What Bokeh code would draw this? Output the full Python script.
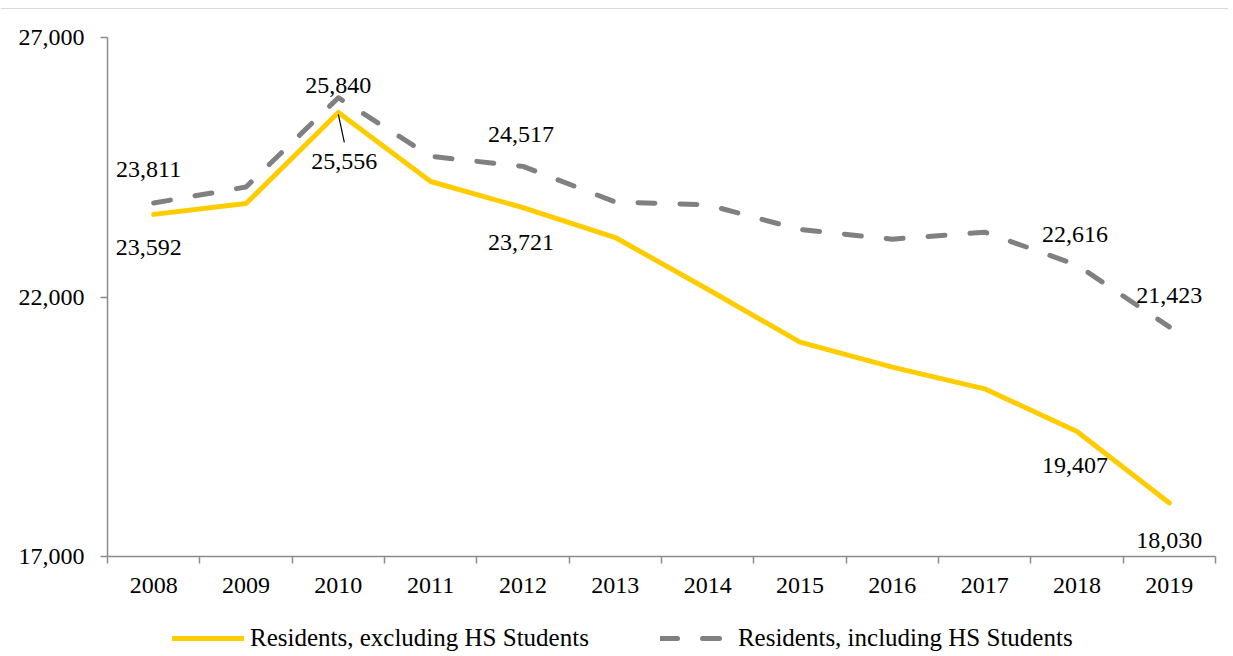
from bokeh.plotting import figure
from bokeh.models import (Range1d, FixedTicker, Legend, LegendItem, ColumnDataSource,
                          NumeralTickFormatter, LinearAxis, Span)
from bokeh.core.properties import value
from bokeh.embed import file_html
from bokeh.resources import INLINE

# ---------------- data ----------------
years = ["2008", "2009", "2010", "2011", "2012", "2013",
         "2014", "2015", "2016", "2017", "2018", "2019"]
residents_excl_hs = [23592, 23800, 25556, 24225, 23721, 23146,
                     22150, 21129, 20648, 20231, 19407, 18030]
residents_incl_hs = [23811, 24120, 25840, 24710, 24517, 23830,
                     23776, 23300, 23114, 23249, 22616, 21423]
series_names = ["Residents, excluding HS Students", "Residents, including HS Students"]
y_ticks = [17000, 22000, 27000]
labelled_years = [0, 2, 4, 10, 11]

# ---------------- styling / layout (pixels) ----------------
FONT = "Liberation Serif"
FS = "24px"
YELLOW = "#FFCC00"
GREY = "#808080"
AXIS = "#8c8c8c"
W, H = 1228, 652
PLOT_L, PLOT_R = 107, 1215      # x of axis start / end
PLOT_T, PLOT_B = 37, 556        # y of top tick / axis line
RULE_Y = 8

n = len(years)
ppx = (PLOT_R - PLOT_L) / n
ppy = (PLOT_B - PLOT_T) / (y_ticks[-1] - y_ticks[0])
x0 = -0.5 - PLOT_L / ppx
x1 = n - 0.5 + (W - PLOT_R) / ppx
y1 = y_ticks[-1] + PLOT_T / ppy
y0 = y_ticks[0] - (H - PLOT_B) / ppy

xs = list(range(n))
p = figure(width=W, height=H, output_backend="svg", toolbar_location=None,
           x_range=Range1d(x0, x1), y_range=Range1d(y0, y1),
           x_axis_location=None, y_axis_location=None,
           min_border=0, min_border_left=0, min_border_right=0,
           min_border_top=0, min_border_bottom=0)
p.grid.visible = False
p.outline_line_color = None
p.background_fill_color = "white"
p.border_fill_color = "white"

# y axis
ya = LinearAxis(fixed_location=-0.5, bounds=(y_ticks[0], y_ticks[-1]))
ya.ticker = FixedTicker(ticks=y_ticks)
ya.formatter = NumeralTickFormatter(format="0,0")
ya.axis_line_color = AXIS
ya.axis_line_width = 1.5
ya.major_tick_line_color = AXIS
ya.major_tick_line_width = 1.5
ya.major_tick_out = 7
ya.major_tick_in = 0
ya.minor_tick_line_color = None
ya.major_label_standoff = 16
ya.major_label_text_font = FONT
ya.major_label_text_font_size = FS
ya.major_label_text_color = "#000000"
p.add_layout(ya, "left")

# x axis: labels at category centres, tick marks at category boundaries
xa = LinearAxis(fixed_location=y_ticks[0], bounds=(-0.5, n - 0.5))
xa.ticker = FixedTicker(ticks=xs, minor_ticks=[i - 0.5 for i in range(n + 1)])
xa.major_label_overrides = {i: y for i, y in enumerate(years)}
xa.axis_line_color = AXIS
xa.axis_line_width = 1.5
xa.major_tick_line_color = None
xa.major_tick_out = 0
xa.major_tick_in = 0
xa.minor_tick_line_color = AXIS
xa.minor_tick_line_width = 1.5
xa.minor_tick_out = 7
xa.minor_tick_in = 0
xa.major_label_standoff = 14
xa.major_label_text_font = FONT
xa.major_label_text_font_size = FS
xa.major_label_text_color = "#000000"
p.add_layout(xa, "below")

# thin rule at the top of the page
p.add_layout(Span(location=y1 - RULE_Y / ppy, dimension="width",
                  line_color="#d9d9d9", line_width=1))

src = ColumnDataSource(dict(x=xs, excl=residents_excl_hs, incl=residents_incl_hs))
r_excl = p.line("x", "excl", source=src, line_color=YELLOW, line_width=5,
                line_join="round", line_cap="round")
r_incl = p.line("x", "incl", source=src, line_color=GREY, line_width=5,
                line_dash="17 25", line_cap="round", line_join="round")

# data labels
incl_off = {0: (-5, -34), 2: (0, -12), 4: (-2, -32), 10: (-2, -31), 11: (0, -31)}
excl_off = {0: (-5, 33), 2: (6, 49), 4: (-2, 35), 10: (-2, 34), 11: (0, 37)}
lab_x, lab_y, lab_t, lab_dx, lab_dy = [], [], [], [], []
for i in labelled_years:
    for vals, off in ((residents_incl_hs, incl_off), (residents_excl_hs, excl_off)):
        lab_x.append(i)
        lab_y.append(vals[i])
        lab_t.append(f"{vals[i]:,}")
        lab_dx.append(off[i][0])
        lab_dy.append(off[i][1])
lsrc = ColumnDataSource(dict(x=lab_x, y=lab_y, t=lab_t, dx=lab_dx, dy=lab_dy))
p.text("x", "y", text="t", source=lsrc, x_offset="dx", y_offset="dy",
       text_align="center", text_baseline="middle",
       text_font=value(FONT), text_font_size=FS, text_color="#000000")

# leader line for the 2010 "excluding" label
p.segment(x0=[2], y0=[residents_excl_hs[2] - 2 / ppy],
          x1=[2 + 6 / ppx], y1=[residents_excl_hs[2] - 30 / ppy],
          line_color="#000000", line_width=1.2)

legend = Legend(items=[LegendItem(label=series_names[0], renderers=[r_excl]),
                       LegendItem(label=series_names[1], renderers=[r_incl])],
                orientation="horizontal", location=(172, 0),
                border_line_color=None, background_fill_alpha=0,
                label_text_font=FONT, label_text_font_size="25px",
                label_text_color="#000000", label_height=26,
                glyph_width=72, glyph_height=26, label_standoff=6, spacing=71,
                padding=0, margin=0)
p.add_layout(legend, "center")

open("out.html", "w").write(file_html(p, INLINE))
